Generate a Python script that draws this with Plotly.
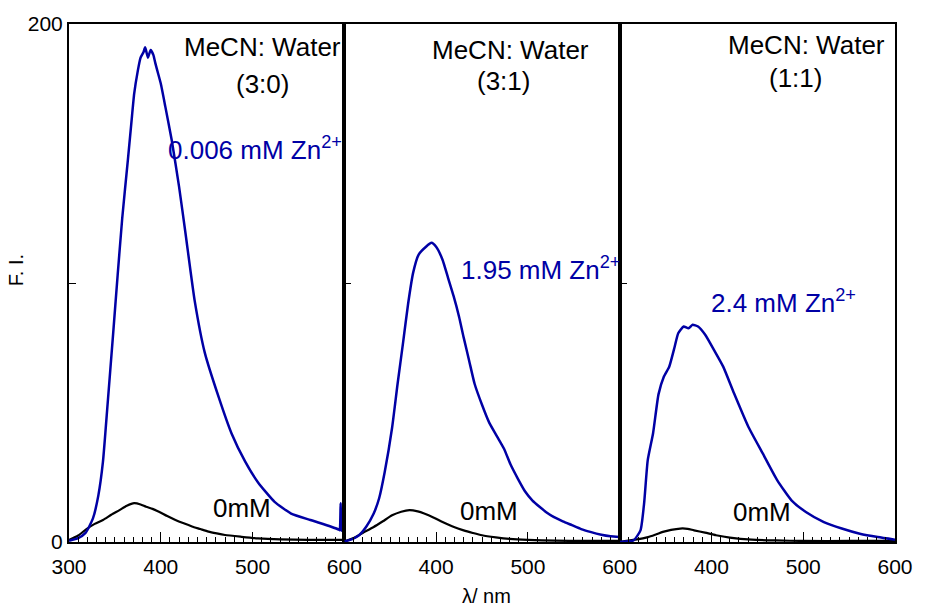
import plotly.graph_objects as go
from plotly.subplots import make_subplots

# ---------------- data ----------------
# Panel 1: MeCN:Water (3:0)
wl_p1_zn = [300, 310, 318, 326, 332, 337, 342, 348, 353, 358, 364, 368, 371, 375, 378, 381, 383, 386,
            389, 392, 394, 397, 400, 405, 412, 420, 427, 437, 448, 463, 477, 492, 506, 524, 542, 563,
            585, 594, 595, 596, 597, 600]
fi_p1_zn = [0.5, 1.5, 3.5, 9, 18, 31, 53, 80, 103, 125, 147, 162, 173, 182, 187, 189, 191, 187,
            190, 188, 185, 181, 177, 168, 155, 137, 119, 93, 73, 56, 42, 31, 23, 15.5, 11, 8.5,
            6, 4.8, 4.5, 15, 4.5, 4]
wl_p1_0 = [300, 310, 319, 328, 337, 346, 355, 363, 371, 378, 384, 391, 398, 407, 416, 425, 434, 443,
           452, 461, 470, 488, 506, 530, 560, 600]
fi_p1_0 = [0.8, 2.5, 5, 7, 8.5, 10.5, 12.3, 14, 15, 14.5, 13.6, 12.8, 11.7, 10, 8.5, 7.2, 6, 5,
           4, 3.3, 2.7, 2, 1.4, 1, 0.8, 0.8]

# Panel 2: MeCN:Water (3:1)
wl_p2_zn = [300, 308, 316, 324, 332, 338, 344, 352, 358, 364, 369.5, 375, 381, 389, 395, 400, 407,
            413, 419, 425, 430, 436, 442, 450, 458, 466, 474, 481, 489, 497, 505, 513, 520, 528,
            538, 548, 558, 568, 580, 590, 600]
fi_p2_zn = [0.2, 1, 2.6, 6, 11, 17, 27, 44, 61, 77, 92, 104, 111, 114, 115.5, 114, 109,
            102, 95, 87, 79, 70, 61, 53, 46, 41, 36, 30, 24.5, 19.5, 16, 13.5, 11.5, 9.7,
            8, 6.5, 5, 3.9, 2.8, 2.2, 1.9]
wl_p2_0 = [300, 310, 320, 332, 342, 352, 362, 371, 380, 387, 397, 407, 418, 430, 440, 450, 465,
           480, 500, 530, 560, 600]
fi_p2_0 = [0.2, 1.5, 3.5, 5.8, 8, 10.3, 11.7, 12.3, 11.8, 11, 9.5, 7.7, 6, 4.5, 3.5, 2.6, 1.8,
           1.2, 0.8, 0.5, 0.4, 0.4]

# Panel 3: MeCN:Water (1:1)
wl_p3_zn = [300, 315, 322.7, 326.6, 330.6, 336.4, 342.3, 348.2, 354, 360, 363.8, 369.7, 375,
            379.5, 385.4, 393.2, 403, 412.8, 424.6, 440.2, 455.9, 471.6, 487.2, 502.9, 522.5,
            542, 561.7, 581.2, 600]
fi_p3_zn = [0, 0.6, 4.5, 14.8, 31.6, 42, 57, 63.9, 67.7, 75.5, 80.6, 83.2, 82.5,
            83.9, 83.2, 80, 74, 67.7, 57.4, 44.5, 34.2, 23.9, 16.1, 11.6, 7.7,
            5.2, 3.2, 1.9, 0.9]
wl_p3_0 = [300, 315, 331, 340, 347, 356, 366, 374, 381, 393, 405, 420, 444, 470, 500, 550, 600]
fi_p3_0 = [0, 0.8, 1.9, 3, 3.9, 4.7, 5.2, 5.1, 4.5, 3.6, 2.6, 1.7, 0.9, 0.6, 0.4, 0.4, 0.4]

panel_titles = ["(3:0)", "(3:1)", "(1:1)"]
zn_labels = ["0.006 mM Zn<sup>2+</sup>", "1.95 mM Zn<sup>2+</sup>", "2.4 mM Zn<sup>2+</sup>"]
blank_label = "0mM"
x_ticks = [300, 400, 500, 600]

BLUE = "rgb(0,0,165)"
FONT = "Liberation Sans, Arial, sans-serif"

fig = make_subplots(rows=1, cols=3, horizontal_spacing=0)

series = [(wl_p1_zn, fi_p1_zn, wl_p1_0, fi_p1_0),
          (wl_p2_zn, fi_p2_zn, wl_p2_0, fi_p2_0),
          (wl_p3_zn, fi_p3_zn, wl_p3_0, fi_p3_0)]
for i, (wz, fz, w0, f0) in enumerate(series, start=1):
    fig.add_trace(go.Scatter(x=w0, y=f0, mode="lines",
                             line=dict(color="black", width=2.2, shape="spline", smoothing=0.6),
                             showlegend=False), row=1, col=i)
    fig.add_trace(go.Scatter(x=wz, y=fz, mode="lines",
                             line=dict(color=BLUE, width=2.5, shape="spline", smoothing=0.5),
                             showlegend=False), row=1, col=i)

for i in range(1, 4):
    fig.update_xaxes(range=[300, 600], tickvals=x_ticks,
                     ticktext=[str(v) for v in x_ticks] if i == 1 else [""] + [str(v) for v in x_ticks[1:]],
                     ticks="inside", ticklen=10, tickwidth=1, tickcolor="black",
                     minor=dict(dtick=10, ticks="inside", ticklen=5, tickcolor="black", tickwidth=1),
                     showline=True, linecolor="black", linewidth=2, mirror=True,
                     showgrid=False, zeroline=False, ticklabelstandoff=5,
                     tickfont=dict(family=FONT, size=21, color="black"),
                     row=1, col=i)
    if i == 1:
        fig.update_yaxes(tickvals=[0, 100, 200], ticktext=["0", "", "200"], row=1, col=i)
    else:
        fig.update_yaxes(tickvals=[100], showticklabels=False, row=1, col=i)
    fig.update_yaxes(range=[0, 200], ticks="inside", ticklen=7, tickcolor="black", tickwidth=1,
                     showline=True, linecolor="black", linewidth=2, mirror=True,
                     showgrid=False, zeroline=False,
                     tickfont=dict(family=FONT, size=21, color="black"),
                     row=1, col=i)

ann = []
# (xref, MeCN x, MeCN y, ratio x, ratio y, zn x, zn y, 0mM x, 0mM y)
pos = [("x", 511, 191, 511, 177, 503, 152, 489, 13),
       ("x2", 481, 190, 473, 178, 514, 105.6, 457.5, 12),
       ("x3", 504, 192, 492, 179, 479, 93, 455, 11.6)]
for k, (xr, mx, my, rx, ry, zx, zy, bx, by) in enumerate(pos):
    yr = "y" if k == 0 else f"y{k+1}"
    ann.append(dict(x=mx, y=my, xref=xr, yref=yr, text="MeCN: Water", showarrow=False,
                    font=dict(family=FONT, size=26, color="black")))
    ann.append(dict(x=rx, y=ry, xref=xr, yref=yr, text=panel_titles[k], showarrow=False,
                    font=dict(family=FONT, size=26, color="black")))
    ann.append(dict(x=zx, y=zy, xref=xr, yref=yr, text=zn_labels[k], showarrow=False,
                    font=dict(family=FONT, size=26, color=BLUE)))
    ann.append(dict(x=bx, y=by, xref=xr, yref=yr, text=blank_label, showarrow=False,
                    font=dict(family=FONT, size=26, color="black")))

ann.append(dict(x=-0.0647, y=0.524, xref="paper", yref="paper", text="F. I.", textangle=-90,
                xanchor="center", yanchor="middle",
                showarrow=False, font=dict(family=FONT, size=20, color="black")))
ann.append(dict(x=0.505, y=-0.08, xref="paper", yref="paper", text="λ/ nm",
                xanchor="center", yanchor="top",
                showarrow=False, font=dict(family=FONT, size=20, color="black")))

fig.update_layout(width=925, height=612, margin=dict(l=69, r=22, t=23, b=70),
                  plot_bgcolor="white", paper_bgcolor="white", annotations=ann,
                  font=dict(family=FONT))

fig.write_html("out.html")
